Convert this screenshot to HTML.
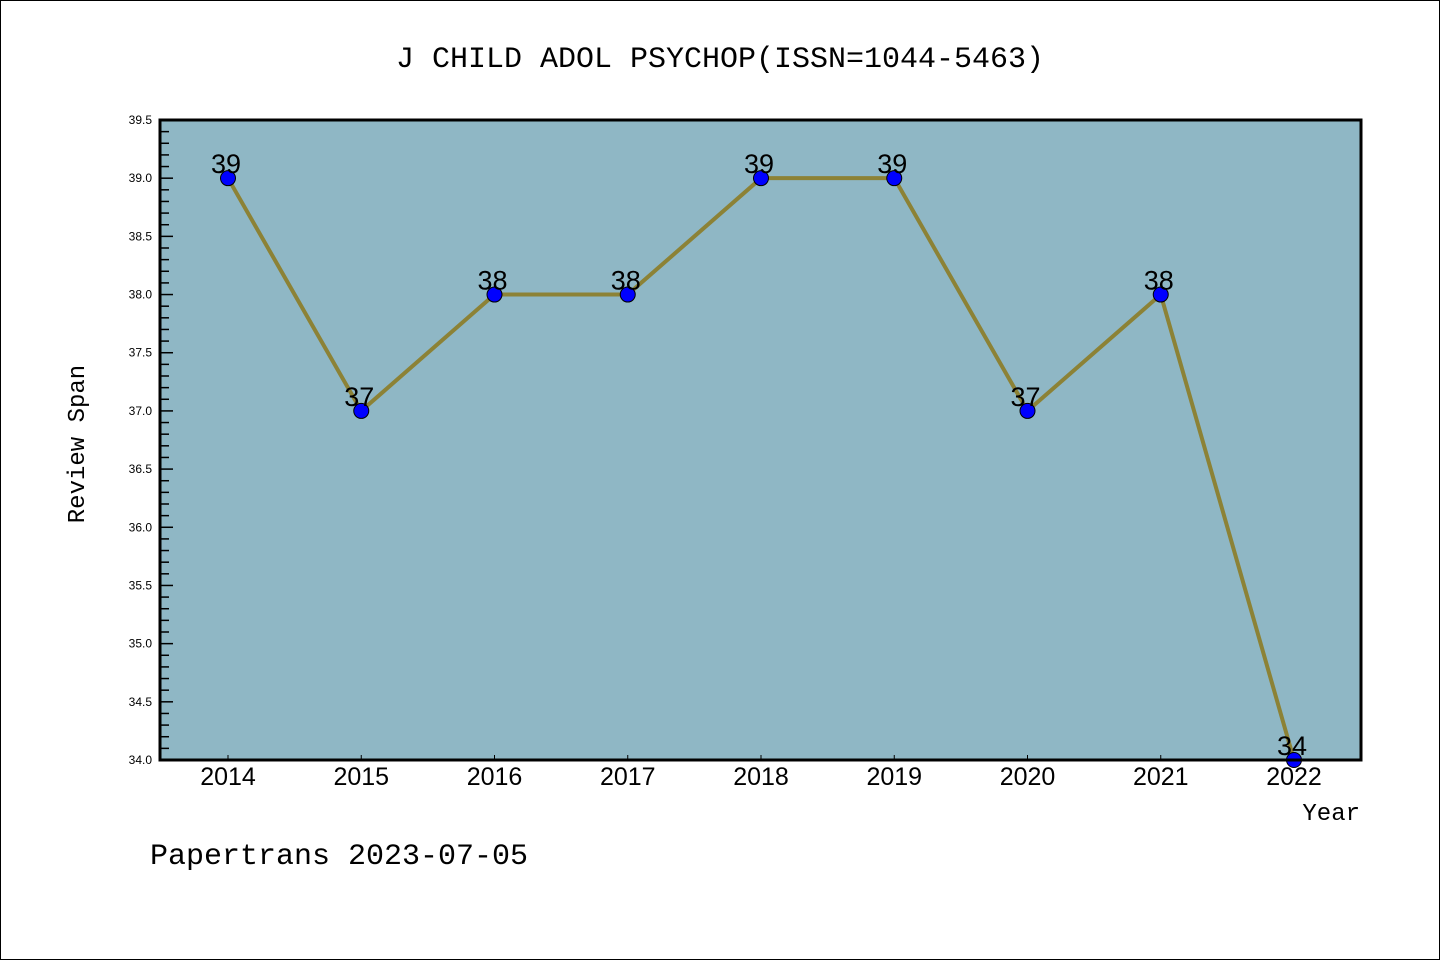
<!DOCTYPE html>
<html><head><meta charset="utf-8"><style>
html,body{margin:0;padding:0;background:#fff;}
svg{display:block;}
</style></head><body>
<svg id="chart" width="1440" height="960" xmlns="http://www.w3.org/2000/svg">
<rect x="0.5" y="0.5" width="1439" height="959" fill="#fff" stroke="#000" stroke-width="1"/>
<text x="720" y="67" text-anchor="middle" font-family="Liberation Mono, monospace" font-size="30">J CHILD ADOL PSYCHOP(ISSN=1044-5463)</text>
<rect x="160" y="120" width="1201" height="640" fill="#8fb7c5"/>
<g id="yticks"></g>
<g id="xticks"></g>
<g id="series"></g>
<rect x="160" y="120" width="1201" height="640" fill="none" stroke="#000" stroke-width="3"/>
<text transform="translate(84,444) rotate(-90)" text-anchor="middle" font-family="Liberation Mono, monospace" font-size="24">Review Span</text>
<text x="1360" y="820" text-anchor="end" font-family="Liberation Mono, monospace" font-size="24">Year</text>
<text x="150" y="864" font-family="Liberation Mono, monospace" font-size="30">Papertrans 2023-07-05</text>
</svg>
<script>
const years = [2014,2015,2016,2017,2018,2019,2020,2021,2022];
const values = [39,37,38,38,39,39,37,38,34];
const yTickLabels = ["34.0","34.5","35.0","35.5","36.0","36.5","37.0","37.5","38.0","38.5","39.0","39.5"];
const NS="http://www.w3.org/2000/svg";
const yMin=34, yMax=39.5, plotTop=120, plotBottom=760;
function ys(v){return plotBottom-(v-yMin)/(yMax-yMin)*(plotBottom-plotTop);}
function xs(yr){return 228+(yr-2014)*133.25;}
function mk(tag,attrs,parent){const e=document.createElementNS(NS,tag);for(const k in attrs)e.setAttribute(k,attrs[k]);parent.appendChild(e);return e;}
const yt=document.getElementById('yticks');
for(let i=0;i<=55;i++){
  const v=yMin+i*0.1, y=ys(v), major=i%5===0;
  const t=mk('line',{x1:160,x2:160+(major?13:9),y1:y,y2:y,stroke:'#000','stroke-width':1.5},yt);
  
  
}
yTickLabels.forEach(l=>{
  const t=mk('text',{x:152,y:ys(parseFloat(l))+4,'text-anchor':'end','font-family':'Liberation Sans, sans-serif','font-size':12},yt);
  t.textContent=l;
  
  
});
const xt=document.getElementById('xticks');
years.forEach(yr=>{
  const x=xs(yr);
  const t=mk('line',{x1:x,x2:x,y1:760,y2:755,stroke:'#000','stroke-width':1},xt);
  
  
  const l=mk('text',{x:x,y:785,'text-anchor':'middle','font-family':'Liberation Sans, sans-serif','font-size':25},xt);
  l.textContent=yr;
  
  
});
const s=document.getElementById('series');
const line=mk('polyline',{points:years.map((yr,i)=>xs(yr)+','+ys(values[i])).join(' '),fill:'none',stroke:'#8c8236','stroke-width':4},s);


years.forEach((yr,i)=>{
  const c=mk('circle',{cx:xs(yr),cy:ys(values[i]),r:7.5,fill:'#0000ff',stroke:'#000','stroke-width':1},s);
  
  
  const l=mk('text',{x:xs(yr)-2,y:ys(values[i])-5,'text-anchor':'middle','font-family':'Liberation Sans, sans-serif','font-size':27},s);
  l.textContent=values[i];
  
  
});
</script>
</body></html>
